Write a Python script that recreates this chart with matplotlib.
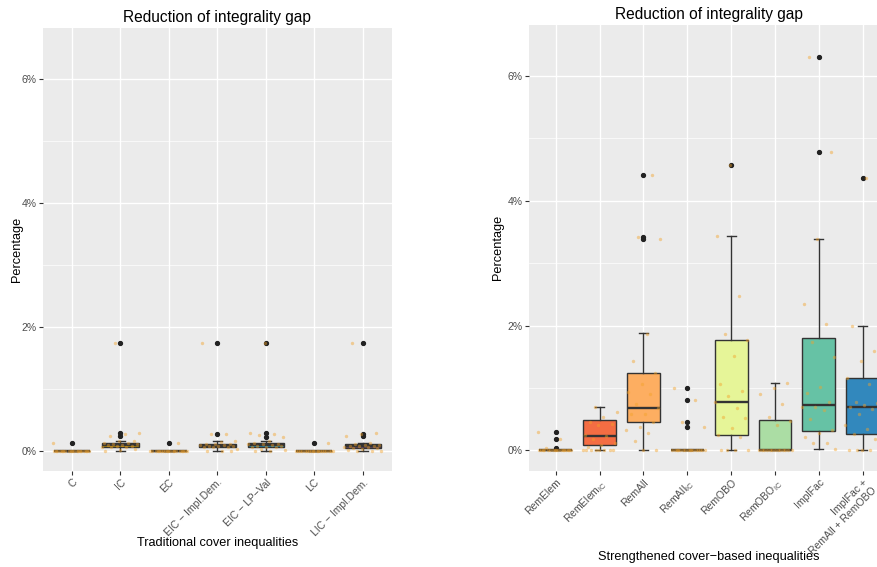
import numpy as np
import matplotlib
matplotlib.use("Agg")
import matplotlib.pyplot as plt

plt.rcParams['font.family'] = ['Liberation Sans', 'DejaVu Sans']
plt.rcParams['mathtext.fontset'] = 'custom'
plt.rcParams['mathtext.rm'] = 'Liberation Sans'
plt.rcParams['mathtext.it'] = 'Liberation Sans:italic'

# ---------------- data (percent) ----------------
left_labels = ["C", "IC", "EC", "EIC \u2212 Impl.Dem.", "EIC \u2212 LP\u2212Val", "LC", "LIC \u2212 Impl.Dem."]
left_colors = ["#C0504D", "#B8900A", "#C0504D", "#1F6B66", "#1D8FB5", "#C0504D", "#654766"]
left_q1 = [0.0, 0.05, 0.0, 0.05, 0.05, 0.0, 0.04]
left_med = [0.0, 0.09, 0.0, 0.08, 0.09, 0.0, 0.07]
left_q3 = [0.0, 0.12, 0.0, 0.11, 0.12, 0.0, 0.10]
left_lo = [0.0, 0.0, 0.0, 0.0, 0.0, 0.0, 0.0]
left_hi = [0.0, 0.16, 0.0, 0.16, 0.16, 0.0, 0.12]
left_fliers = [[0.13], [0.23, 0.28, 1.74], [0.13], [0.26, 1.74], [0.22, 0.28, 1.74], [0.13], [0.24, 0.27, 1.74]]
left_points = [
    [0.13] + [0.0] * 19,
    [1.74, 0.28, 0.27, 0.23, 0.16, 0.15, 0.12, 0.12, 0.11, 0.10, 0.09, 0.09, 0.08, 0.07, 0.06, 0.05, 0.05, 0.03, 0.01, 0.0],
    [0.13] + [0.0] * 19,
    [1.74, 0.27, 0.26, 0.16, 0.14, 0.11, 0.10, 0.10, 0.09, 0.09, 0.08, 0.08, 0.07, 0.06, 0.05, 0.05, 0.03, 0.0, 0.0, 0.0],
    [1.74, 0.29, 0.27, 0.25, 0.22, 0.16, 0.12, 0.11, 0.10, 0.10, 0.09, 0.08, 0.07, 0.06, 0.05, 0.05, 0.03, 0.01, 0.0, 0.0],
    [0.13] + [0.0] * 19,
    [1.74, 0.29, 0.27, 0.24, 0.12, 0.10, 0.09, 0.09, 0.08, 0.07, 0.07, 0.06, 0.05, 0.04, 0.04, 0.03, 0.01, 0.0, 0.0, 0.0],
]

right_labels = ["RemElem", r"RemElem$_{\mathrm{IC}}$", "RemAll", r"RemAll$_{\mathrm{IC}}$",
                "RemOBO", r"RemOBO$_{\mathrm{IC}}$", "ImplFac", "ImplFac +\nRemAll + RemOBO"]
right_colors = ["#D53E4F", "#F46D43", "#FDAE61", "#FEE08B", "#E6F598", "#ABDDA4", "#66C2A5", "#3288BD"]
right_q1 = [0.0, 0.086, 0.455, 0.0, 0.25, 0.0, 0.316, 0.26]
right_med = [0.0, 0.23, 0.68, 0.0, 0.77, 0.0, 0.73, 0.69]
right_q3 = [0.0, 0.49, 1.24, 0.0, 1.77, 0.48, 1.80, 1.16]
right_lo = [0.0, 0.0, 0.0, 0.0, 0.0, 0.0, 0.02, 0.0]
right_hi = [0.0, 0.70, 1.875, 0.0, 3.44, 1.08, 3.38, 1.99]
right_fliers = [[0.03, 0.18, 0.295], [], [3.39, 3.42, 4.41], [0.38, 0.46, 0.80, 1.0],
                [4.58], [], [4.78, 6.30], [4.36]]
right_points = [
    [0.295, 0.18, 0.03] + [0.0] * 17,
    [0.70, 0.62, 0.54, 0.46, 0.43, 0.40, 0.24, 0.23, 0.18, 0.12, 0.09, 0.05, 0.0, 0.0, 0.0, 0.0, 0.0, 0.0, 0.0, 0.0],
    [4.41, 3.42, 3.39, 1.87, 1.43, 1.24, 1.06, 0.94, 0.91, 0.74, 0.68, 0.58, 0.58, 0.46, 0.38, 0.33, 0.27, 0.145, 0.0, 0.0],
    [1.0, 0.80, 0.46, 0.38] + [0.0] * 16,
    [4.58, 3.44, 2.48, 1.87, 1.77, 1.52, 1.07, 0.95, 0.87, 0.77, 0.675, 0.54, 0.52, 0.35, 0.25, 0.22, 0.0, 0.0, 0.0, 0.0],
    [1.08, 1.0, 0.90, 0.745, 0.54, 0.47, 0.40] + [0.0] * 13,
    [6.30, 4.78, 3.38, 2.35, 2.03, 1.74, 1.49, 1.02, 0.92, 0.78, 0.69, 0.69, 0.64, 0.51, 0.32, 0.27, 0.21, 0.12, 0.11, 0.02],
    [4.36, 1.99, 1.60, 1.44, 1.16, 1.07, 0.77, 0.76, 0.72, 0.70, 0.67, 0.58, 0.41, 0.34, 0.26, 0.18, 0.0, 0.0, 0.0, 0.0],
]

W, H = 878, 567
fig = plt.figure(figsize=(W / 100, H / 100), dpi=100)

def px_axes(x0, x1, y0, y1):
    return fig.add_axes([x0 / W, 1 - y1 / H, (x1 - x0) / W, (y1 - y0) / H])

def panel(ax, labels, colors, q1, med, q3, lo, hi, fliers, points, xlabel, xlab_y):
    n = len(labels)
    pos = np.arange(1, n + 1)
    ax.set_facecolor("#EBEBEB")
    for s in ax.spines.values():
        s.set_visible(False)

    stats = []
    for i in range(n):
        stats.append(dict(q1=q1[i], med=med[i], q3=q3[i], whislo=lo[i], whishi=hi[i], fliers=fliers[i]))
    bp = ax.bxp(stats, positions=pos, widths=0.75, capwidths=0.2, patch_artist=True,
                boxprops=dict(edgecolor="#333333", linewidth=1.0),
                medianprops=dict(color="#333333", linewidth=1.7),
                whiskerprops=dict(color="#333333", linewidth=1.0),
                capprops=dict(color="#333333", linewidth=1.0),
                flierprops=dict(marker="o", markerfacecolor="#222222", markeredgecolor="#222222",
                                markersize=2.8))
    for patch, c in zip(bp["boxes"], colors):
        patch.set_facecolor(c)
    for art in bp["boxes"] + bp["medians"] + bp["whiskers"] + bp["caps"] + bp["fliers"]:
        art.set_zorder(3)

    # jittered observations
    for i, vals in enumerate(points):
        k = np.arange(len(vals))
        offs = ((k * 0.6180339 + 0.37 * i) % 1.0 - 0.5) * 0.8
        ax.scatter(pos[i] + offs, vals, s=6, color="#F2A229", alpha=0.45, linewidths=0, zorder=4)

    ax.set_xlim(0.4, n + 0.6)
    ax.set_ylim(-0.325, 6.825)
    ax.set_yticks([0, 2, 4, 6])
    ax.set_yticklabels(["0%", "2%", "4%", "6%"])
    ax.set_yticks([1, 3, 5], minor=True)
    ax.set_xticks(pos)
    ax.set_xticklabels(labels, rotation=45, ha="right", va="top", rotation_mode="anchor")
    ax.tick_params(axis="both", which="major", colors="#333333", length=2.75, width=0.8,
                   labelsize=7.5, labelcolor="#4D4D4D", pad=2)
    ax.tick_params(axis="y", which="minor", length=0)
    ax.grid(which="major", color="white", linewidth=1.0)
    ax.grid(which="minor", axis="y", color="white", linewidth=0.5)
    ax.set_axisbelow(True)
    ax.set_title("Reduction of integrality gap", fontsize=11.2, pad=4)
    ax.set_xlabel(xlabel, fontsize=9.2)
    ax.xaxis.set_label_coords(0.5, xlab_y)
    ax.set_ylabel("Percentage", fontsize=9.2)

axL = px_axes(42.9, 391.8, 27.9, 470.7)
panel(axL, left_labels, left_colors, left_q1, left_med, left_q3, left_lo, left_hi,
      left_fliers, left_points, "Traditional cover inequalities", -0.150)
axL.yaxis.set_label_coords(-0.057, 0.5)

axR = px_axes(529.4, 889.0, 24.6, 470.6)
panel(axR, right_labels, right_colors, right_q1, right_med, right_q3, right_lo, right_hi,
      right_fliers, right_points, "Strengthened cover\u2212based inequalities", -0.180)
axR.yaxis.set_label_coords(-0.072, 0.5)

fig.savefig("out.png", dpi=100)
